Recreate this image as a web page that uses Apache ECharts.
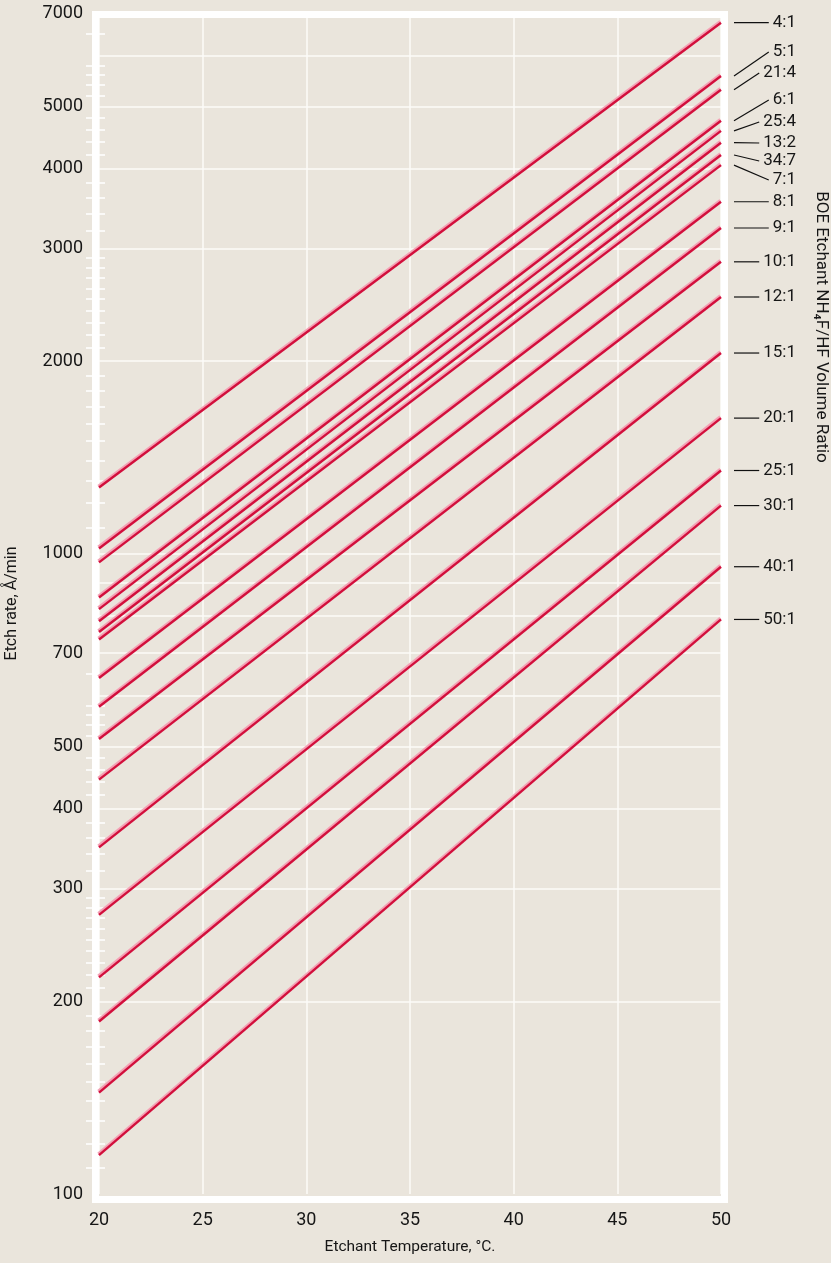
<!DOCTYPE html>
<html>
<head>
<meta charset="utf-8">
<title>BOE etch rate vs temperature</title>
<style>
  html, body { margin: 0; padding: 0; background: #eae5dc; }
  #chart { width: 831px; height: 1263px; }
</style>
<script src="https://cdn.jsdelivr.net/npm/echarts@6/dist/echarts.min.js"></script>
</head>
<body>
<div id="chart"></div>
<script>
// NH4F/HF volume ratios, most concentrated first
const ratios = ['4:1', '5:1', '21:4', '6:1', '25:4', '13:2', '34:7', '7:1', '8:1', '9:1',
                '10:1', '12:1', '15:1', '20:1', '25:1', '30:1', '40:1', '50:1'];
// etchant temperature at the two ends of each line, °C
const tempEnds = [20, 50];
// etch rate (Å/min) at 20 °C and at 50 °C for each ratio
const rateAt20 = [1270, 1020, 970, 855, 820, 785, 755, 735, 640, 577,
                  514, 444, 348, 273, 218, 186, 144, 115];
const rateAt50 = [6760, 5580, 5310, 4750, 4580, 4390, 4200, 4050, 3550, 3230,
                  2860, 2520, 2060, 1630, 1350, 1190, 955, 790];

// axis values
const tempTickStep = 5;
const rateLabelValues = [100, 200, 300, 400, 500, 700, 1000, 2000, 3000, 4000, 5000, 7000];
const rateGridValues = [200, 300, 400, 500, 600, 700, 800, 900, 1000, 2000, 3000, 4000, 5000, 6000];
const rateMinorTicks = [110, 120, 130, 140, 150, 160, 170, 180, 190,
                        210, 220, 230, 240, 250, 260, 270, 280, 290,
                        320, 340, 360, 380, 420, 440, 460, 480,
                        520, 540, 560, 580, 650,
                        1100, 1200, 1300, 1400, 1500, 1600, 1700, 1800, 1900,
                        2100, 2200, 2300, 2400, 2500, 2600, 2700, 2800, 2900,
                        3200, 3400, 3600, 3800, 4200, 4400, 4600, 4800,
                        5200, 5400, 5600, 5800, 6500];

// ---- layout ----
const GRID = { left: 99, top: 13, width: 622, height: 1181 };
const FRAME = { x: 99, y: 18, w: 622, h: 1178, stroke: 7 };
const LEADER_X0 = 734;
const LABEL_RIGHT = 796;
// label centre heights where the ratio labels are spread apart (null = at line end)
const ratioLabelY = [null, 52, 73, 100, 122, 143, 161, 180, null, null,
                     null, null, null, null, null, null, null, null];

const FONT = 'Roboto, "Noto Sans", sans-serif';
const INK = '#161616';
const RED = '#d20f3c';
const GRIDLINE = '#fcfbf8';

const chart = echarts.init(document.getElementById('chart'), null, { renderer: 'canvas' });

// each curve: a red stroke with a pale pink edge along its upper side
const series = ratios.map((r, i) => ({
  name: r,
  type: 'line',
  xAxisIndex: 0,
  yAxisIndex: 0,
  data: [[tempEnds[0], rateAt20[i]], [tempEnds[1], rateAt50[i]]],
  symbol: 'none',
  silent: true,
  z: 5,
  lineStyle: {
    color: RED,
    width: 2.4,
    shadowColor: 'rgba(244, 160, 180, 1)',
    shadowBlur: 0.5,
    shadowOffsetX: -0.9,
    shadowOffsetY: -1.6
  }
}));

const yBase = { type: 'log', logBase: 10, min: 100, max: 7000 };

chart.setOption({
  backgroundColor: '#eae5dc',
  animation: false,
  textStyle: { fontFamily: FONT },
  grid: Object.assign({ containLabel: false, outerBoundsMode: 'none' }, GRID),
  xAxis: {
    type: 'value',
    min: tempEnds[0],
    max: tempEnds[1],
    interval: tempTickStep,
    axisLine: { show: false },
    axisTick: { show: false },
    axisLabel: { color: INK, fontSize: 18, fontFamily: FONT, margin: 17 },
    splitLine: { show: true, lineStyle: { color: GRIDLINE, width: 1.5 } },
    name: 'Etchant Temperature, °C.',
    nameLocation: 'middle',
    nameGap: 45,
    nameTextStyle: { color: INK, fontSize: 15.5, fontFamily: FONT }
  },
  yAxis: [
    Object.assign({}, yBase, {
      position: 'left',
      axisLine: { show: false },
      axisTick: { show: false, customValues: rateGridValues },
      axisLabel: {
        customValues: rateLabelValues,
        color: INK, fontSize: 18, fontFamily: FONT, margin: 16,
        formatter: v => String(Math.round(v))
      },
      splitLine: { show: true, lineStyle: { color: GRIDLINE, width: 1.5 } },
      name: 'Etch rate, Å/min',
      nameLocation: 'middle',
      nameGap: 79,
      nameTextStyle: { color: INK, fontSize: 16, fontFamily: FONT }
    }),
    Object.assign({}, yBase, {
      position: 'left',
      axisLine: { show: false },
      axisTick: { show: true, inside: false, length: 13, customValues: rateMinorTicks,
                  lineStyle: { color: '#ffffff', width: 1.5 } },
      axisLabel: { show: false },
      splitLine: { show: false }
    }),
    Object.assign({}, yBase, {
      position: 'left',
      axisLine: { show: false },
      axisTick: { show: true, inside: true, length: 6, customValues: rateMinorTicks,
                  lineStyle: { color: '#ffffff', width: 1.5 } },
      axisLabel: { show: false },
      splitLine: { show: false }
    })
  ],
  series: series
});

// ---- frame, ratio labels with leader lines, right-hand title ----
const measure = document.createElement('canvas').getContext('2d');
const LABEL_FONT_SIZE = 17;
measure.font = LABEL_FONT_SIZE + 'px Roboto';

const graphics = [];
graphics.push({
  type: 'rect',
  z: 3,
  silent: true,
  shape: {
    x: FRAME.x - FRAME.stroke / 2,
    y: FRAME.y - FRAME.stroke / 2,
    width: FRAME.w + FRAME.stroke,
    height: FRAME.h + FRAME.stroke
  },
  style: { fill: null, stroke: '#ffffff', lineWidth: FRAME.stroke }
});

ratios.forEach((r, i) => {
  const end = chart.convertToPixel({ xAxisIndex: 0, yAxisIndex: 0 }, [tempEnds[1], rateAt50[i]]);
  const yEnd = end[1];
  const yLab = ratioLabelY[i] == null ? yEnd : ratioLabelY[i];
  const w = measure.measureText(r).width;
  const textLeft = LABEL_RIGHT - w;
  graphics.push({
    type: 'line',
    z: 4,
    silent: true,
    shape: { x1: LEADER_X0, y1: yEnd, x2: textLeft - 4, y2: yLab },
    style: { stroke: '#111111', lineWidth: 1.2 }
  });
  graphics.push({
    type: 'text',
    z: 4,
    silent: true,
    x: LABEL_RIGHT,
    y: yLab,
    style: {
      text: r,
      align: 'right',
      verticalAlign: 'middle',
      fill: INK,
      font: LABEL_FONT_SIZE + 'px ' + FONT
    }
  });
});

graphics.push({
  type: 'text',
  z: 4,
  silent: true,
  x: 821,
  y: 327,
  rotation: -Math.PI / 2,
  style: {
    text: 'BOE Etchant NH₄F/HF Volume Ratio',
    align: 'center',
    verticalAlign: 'middle',
    fill: INK,
    font: '17px ' + FONT
  }
});

chart.setOption({ graphic: graphics });
</script>
</body>
</html>
